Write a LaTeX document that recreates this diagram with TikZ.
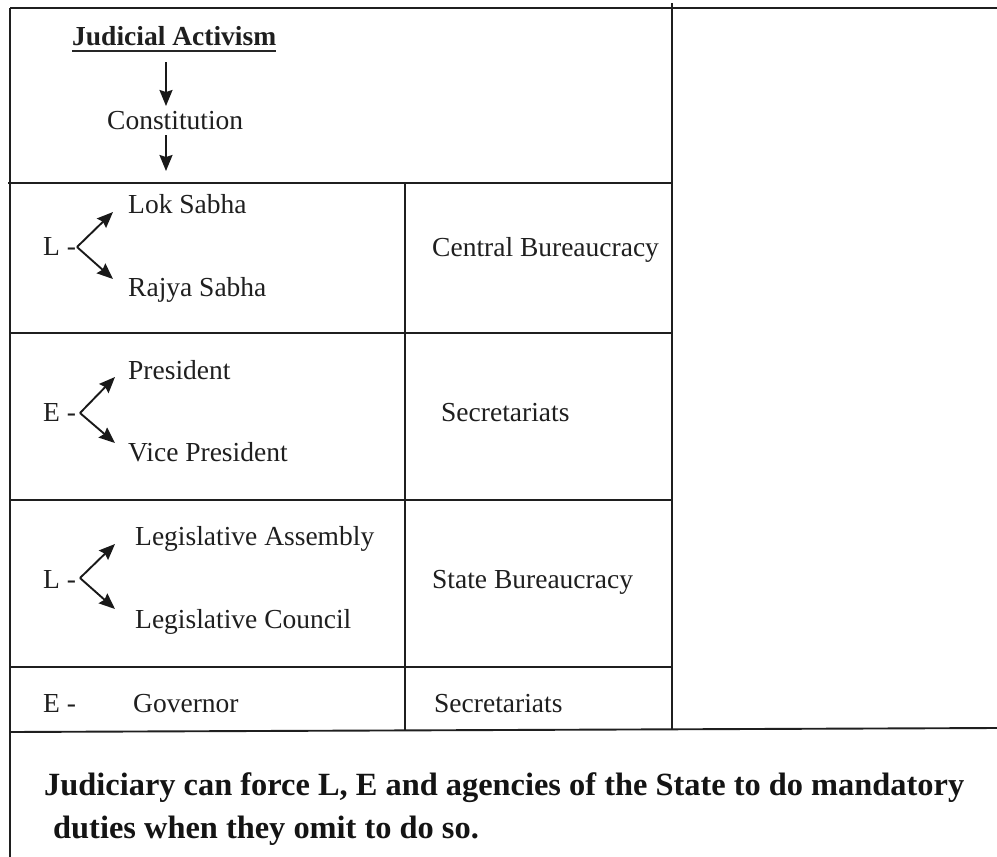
\documentclass[tikz,border=0pt]{standalone}
\usepackage{fontspec}
\setmainfont{Liberation Serif}
\usetikzlibrary{arrows.meta,calc}
\begin{document}
\begin{tikzpicture}[x=1pt,y=-1pt,
  rule/.style={line width=1.9pt,draw=black!88},
  arr/.style={line width=1.9pt,draw=black!90,-{Stealth[length=16pt,width=13pt,inset=2pt]}},
  txt/.style={inner sep=0pt,anchor=base west,text=black!88,font=\fontsize{27.5}{33}\selectfont},
  btxt/.style={inner sep=0pt,anchor=base west,text=black!92,font=\bfseries\fontsize{32.4}{40}\selectfont}]
\useasboundingbox (0,0) rectangle (997,857);
\fill[white] (0,0) rectangle (997,857);
% grid lines
\draw[rule] (10,8) -- (997,8);
\draw[rule] (672,3) -- (672,730);
\draw[rule] (10,8) -- (10,857);
\draw[rule] (8,183) -- (672,183);
\draw[rule] (405,183) -- (405,731);
\draw[rule] (10,333) -- (672,333);
\draw[rule] (10,500) -- (672,500);
\draw[rule] (10,667) -- (672,667);
\draw[rule] (10,732) -- (997,728);
% header
\node[txt,font=\bfseries\fontsize{27.5}{33}\selectfont] (ja) at (72,45) {Judicial Activism};
\draw[line width=1.5pt,draw=black!85] ($(ja.base west)+(0,6)$) -- ($(ja.base east)+(0,6)$);
\node[txt] (con) at (107,129) {Constitution};
\coordinate (a1s) at (166,62);
\coordinate (a1e) at (166,106);
\coordinate (a2s) at (166,135);
\coordinate (a2e) at (166,171);
\draw[arr] (a1s) -- (a1e);
\draw[arr] (a2s) -- (a2e);
% row 1
\node[txt] (l1) at (43,255) {L -};
\node[txt] (ls) at (128,213.3) {Lok Sabha};
\node[txt] (rs) at (128,296.7) {Rajya Sabha};
\node[txt] (cb) at (432,256) {Central Bureaucracy};
\coordinate (b1) at (77,247);
\coordinate (b1u) at (113,212);
\coordinate (b1d) at (113,279);
\draw[arr] (b1) -- (b1u);
\draw[arr] (b1) -- (b1d);
% row 2
\node[txt] (e1) at (43,421.7) {E -};
\node[txt] (pr) at (128,379) {President};
\node[txt] (vp) at (128,461.7) {Vice President};
\node[txt] (se1) at (441,421) {Secretariats};
\coordinate (b2) at (80,413);
\coordinate (b2u) at (115,377);
\coordinate (b2d) at (115,443);
\draw[arr] (b2) -- (b2u);
\draw[arr] (b2) -- (b2d);
% row 3
\node[txt] (l2) at (43,588) {L -};
\node[txt] (la) at (135,545) {Legislative Assembly};
\node[txt] (lc) at (135,628) {Legislative Council};
\node[txt] (sb) at (432,588) {State Bureaucracy};
\coordinate (b3) at (80,578);
\coordinate (b3u) at (115,544);
\coordinate (b3d) at (115,609);
\draw[arr] (b3) -- (b3u);
\draw[arr] (b3) -- (b3d);
% row 4
\node[txt] (e2) at (43,712) {E -};
\node[txt] (gv) at (133,712) {Governor};
\node[txt] (se2) at (434,712) {Secretariats};
% bottom
\node[btxt] (bt1) at (44,795) {Judiciary can force L, E and agencies of the State to do mandatory};
\node[btxt] (bt2) at (53,838) {duties when they omit to do so.};
\end{tikzpicture}
\end{document}
